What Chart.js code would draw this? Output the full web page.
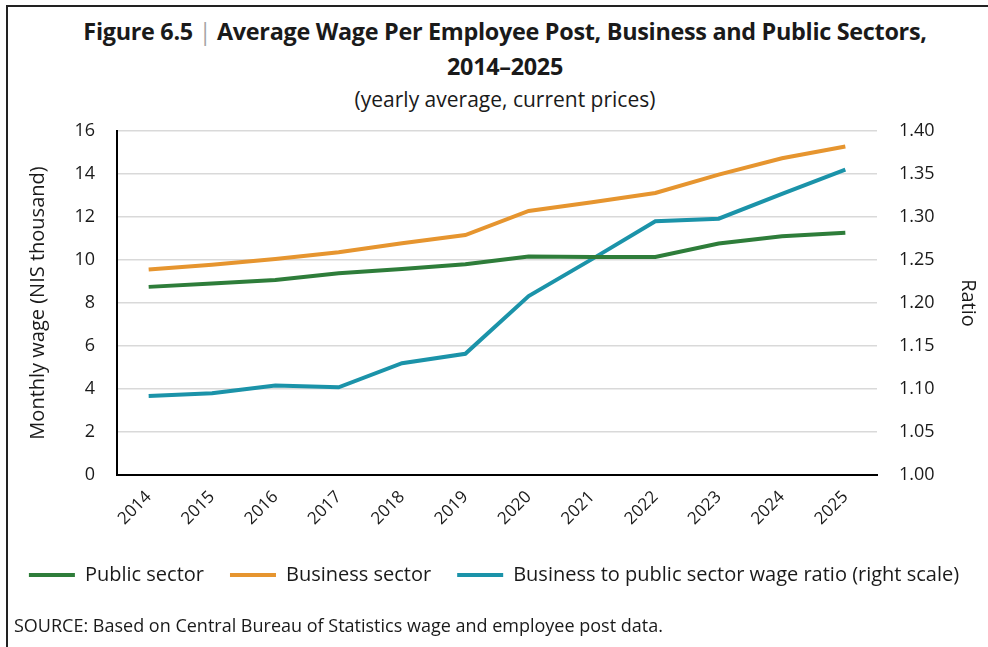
<!DOCTYPE html>
<html>
<head>
  <title>Average Wage Per Employee Post</title>
  <script src="https://cdn.jsdelivr.net/npm/chart.js"></script>
  <style>
    body {
      margin: 0;
      background: white;
      font-family: "Open Sans", sans-serif;
      color: #1a1a1a;
    }

    #frame {
      position: relative;
      width: 988px;
      height: 647px;
      overflow: hidden;
    }

    #edge {
      position: absolute;
      left: 6px;
      top: 5px;
      right: -10px;
      bottom: -10px;
      border-top: 2px solid #222;
      border-left: 2px solid #222;
    }

    .head {
      position: absolute;
      left: 22px;
      width: 966px;
      text-align: center;
      white-space: nowrap;
      line-height: 1;
    }

    #t1 { top: 20px; font-size: 23.4px; font-weight: bold; letter-spacing: -0.3px; }
    #t2 { top: 55px; font-size: 23.4px; font-weight: bold; letter-spacing: -0.3px; }
    #t3 { top: 89px; font-size: 21px; }
    .bar { color: #a6a6a6; font-weight: normal; }

    #source {
      position: absolute;
      left: 14px;
      top: 616px;
      font-size: 18px;
      line-height: 1;
    }

    canvas {
      position: absolute;
      left: 0;
      top: 0;
    }
  </style>
</head>
<body>

  <div id="frame">
    <div id="edge"></div>
    <div class="head" id="t1">Figure 6.5 <span class="bar">|</span> Average Wage Per Employee Post, Business and Public Sectors,</div>
    <div class="head" id="t2">2014–2025</div>
    <div class="head" id="t3">(yearly average, current prices)</div>
    <canvas id="wageChart" width="988" height="647"></canvas>
    <div id="source">SOURCE: Based on Central Bureau of Statistics wage and employee post data.</div>
  </div>

  <script>
    const years = ["2014", "2015", "2016", "2017", "2018", "2019", "2020", "2021", "2022", "2023", "2024", "2025"];

    // monthly wage, NIS thousand
    const publicWage   = [8.75, 8.91, 9.07, 9.38, 9.58, 9.80, 10.16, 10.14, 10.14, 10.77, 11.10, 11.27];
    const businessWage = [9.56, 9.78, 10.05, 10.36, 10.78, 11.16, 12.28, 12.69, 13.12, 13.97, 14.73, 15.28];
    // business / public (right scale)
    const wageRatio    = [1.092, 1.095, 1.104, 1.102, 1.130, 1.141, 1.208, 1.251, 1.295, 1.298, 1.327, 1.355];

    const fontFamily = "'Open Sans', sans-serif";
    const ink = "#1a1a1a";

    const ctx = document.getElementById("wageChart").getContext("2d");
    const wageChart = new Chart(ctx, {
      type: "line",
      data: {
        labels: years,
        datasets: [
          {
            label: "Public sector",
            data: publicWage,
            borderColor: "#2e7d3a",
            backgroundColor: "#2e7d3a",
            borderWidth: 4,
            pointRadius: 0,
            yAxisID: "y"
          },
          {
            label: "Business sector",
            data: businessWage,
            borderColor: "#e6952f",
            backgroundColor: "#e6952f",
            borderWidth: 4,
            pointRadius: 0,
            yAxisID: "y"
          },
          {
            label: "Business to public sector wage ratio (right scale)",
            data: wageRatio,
            borderColor: "#1b93a9",
            backgroundColor: "#1b93a9",
            borderWidth: 4,
            pointRadius: 0,
            yAxisID: "y1"
          }
        ]
      },
      options: {
        responsive: false,
        animation: false,
        layout: {
          padding: { top: 131, bottom: 52, left: 0, right: 0 }
        },
        plugins: {
          title: { display: false },
          tooltip: { enabled: false },
          legend: {
            position: "bottom",
            labels: {
              usePointStyle: true,
              pointStyle: "line",
              pointStyleWidth: 46,
              padding: 26,
              color: ink,
              font: { family: fontFamily, size: 20 }
            }
          }
        },
        scales: {
          x: {
            offset: true,
            grid: { display: false, drawTicks: false },
            border: { display: true, color: "#000", width: 2 },
            ticks: {
              color: ink,
              font: { family: fontFamily, size: 17 },
              maxRotation: 45,
              minRotation: 45,
              padding: 12
            },
            afterFit(scale) { scale.height = 64; }
          },
          y: {
            position: "left",
            min: 0,
            max: 16,
            ticks: {
              stepSize: 2,
              color: ink,
              padding: 22,
              font: { family: fontFamily, size: 18 }
            },
            grid: { color: "#d9d9d9", lineWidth: 1.5, drawTicks: false },
            border: { display: true, color: "#000", width: 2 },
            title: {
              display: true,
              text: "Monthly wage (NIS thousand)",
              color: ink,
              font: { family: fontFamily, size: 20 },
              padding: { top: 26, bottom: 0 }
            },
            afterFit(scale) { scale.width = 117; }
          },
          y1: {
            position: "right",
            min: 1.0,
            max: 1.4,
            ticks: {
              stepSize: 0.05,
              color: ink,
              padding: 22,
              font: { family: fontFamily, size: 18 },
              callback: v => v.toFixed(2)
            },
            grid: { display: false, drawTicks: false },
            border: { display: false },
            title: {
              display: true,
              text: "Ratio",
              color: ink,
              font: { family: fontFamily, size: 20 },
              padding: { top: 8, bottom: 0 }
            },
            afterFit(scale) { scale.width = 111; }
          }
        }
      }
    });
  </script>

</body>
</html>
